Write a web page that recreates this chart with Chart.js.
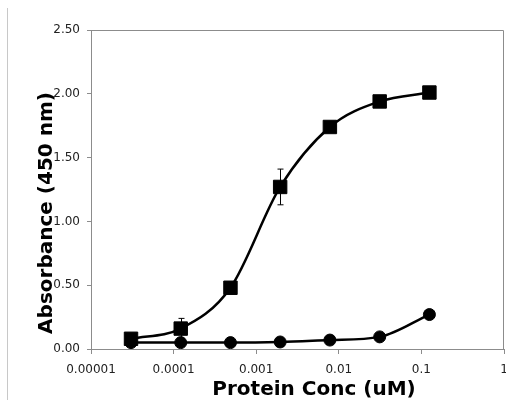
<!DOCTYPE html>
<html>
<head>
<meta charset="utf-8">
<script src="https://cdn.jsdelivr.net/npm/chart.js@4"></script>
<style>
  html, body { margin: 0; padding: 0; background: #fff; }
  canvas { display: block; }
</style>
</head>
<body>
<canvas id="elisaChart" width="506" height="411"></canvas>
<script>
// 4-fold dilution series (uM)
const concentrations = [0.0000305, 0.000122, 0.000488, 0.00195, 0.0078, 0.03125, 0.125];
const squareValues = [0.08, 0.16, 0.48, 1.27, 1.74, 1.94, 2.01];
const squareErrors = [0.01, 0.08, 0.02, 0.14, 0.03, 0.02, 0.02];
const circleValues = [0.05, 0.05, 0.05, 0.055, 0.07, 0.095, 0.27];
const xTickValues = [0.00001, 0.0001, 0.001, 0.01, 0.1, 1];
const xTickLabels = ['0.00001', '0.0001', '0.001', '0.01', '0.1', '1'];
const yTickLabels = ['0.00', '0.50', '1.00', '1.50', '2.00', '2.50'];

const axisGray = '#8c8c8c';

// frame, error bars, axis titles
const extras = {
    id: 'extras',
    beforeDatasetsDraw(chart) {
        const ctx = chart.ctx;
        const xs = chart.scales.x, ys = chart.scales.y;
        ctx.save();
        ctx.strokeStyle = '#000';
        ctx.lineWidth = 1;
        concentrations.forEach(function (c, i) {
            const px = Math.round(xs.getPixelForValue(c)) + 0.5;
            const top = ys.getPixelForValue(squareValues[i] + squareErrors[i]);
            const bot = ys.getPixelForValue(squareValues[i] - squareErrors[i]);
            ctx.beginPath();
            ctx.moveTo(px, top); ctx.lineTo(px, bot);
            ctx.moveTo(px - 3, top); ctx.lineTo(px + 3, top);
            ctx.moveTo(px - 3, bot); ctx.lineTo(px + 3, bot);
            ctx.stroke();
        });
        ctx.restore();
    },
    afterDraw(chart) {
        const ctx = chart.ctx;
        const a = chart.chartArea;
        ctx.save();
        ctx.strokeStyle = axisGray;
        ctx.lineWidth = 1;
        ctx.beginPath();
        ctx.moveTo(a.left, a.top + 0.5); ctx.lineTo(a.right - 0.5, a.top + 0.5);
        ctx.lineTo(a.right - 0.5, a.bottom);
        ctx.stroke();
        // page edge line on the left
        ctx.strokeStyle = '#c8c8c8';
        ctx.beginPath();
        ctx.moveTo(7.5, 8); ctx.lineTo(7.5, 400);
        ctx.stroke();

        ctx.fillStyle = '#000';
        ctx.font = 'bold 20px "DejaVu Sans"';
        ctx.textAlign = 'center';
        ctx.textBaseline = 'alphabetic';
        ctx.fillText('Protein Conc (uM)', 314, 395);
        ctx.translate(52, 213);
        ctx.rotate(-Math.PI / 2);
        ctx.fillText('Absorbance (450 nm)', 0, 0);
        ctx.restore();
    }
};

const ctx = document.getElementById('elisaChart').getContext('2d');
new Chart(ctx, {
    type: 'line',
    data: {
        datasets: [{
            label: 'Squares',
            data: concentrations.map((c, i) => ({ x: c, y: squareValues[i] })),
            borderColor: '#000',
            backgroundColor: '#000',
            borderWidth: 2.5,
            pointStyle: 'rect',
            pointRadius: 9.5,
            pointBorderWidth: 1,
            cubicInterpolationMode: 'monotone'
        }, {
            label: 'Circles',
            data: concentrations.map((c, i) => ({ x: c, y: circleValues[i] })),
            borderColor: '#000',
            backgroundColor: '#000',
            borderWidth: 2.5,
            pointStyle: 'circle',
            pointRadius: 6,
            pointBorderWidth: 1,
            cubicInterpolationMode: 'monotone'
        }]
    },
    options: {
        responsive: false,
        animation: false,
        layout: { autoPadding: false, padding: { top: 30, right: 2, left: 0, bottom: 0 } },
        plugins: { legend: { display: false }, tooltip: { enabled: false } },
        scales: {
            x: {
                type: 'logarithmic',
                min: 0.00001,
                max: 1,
                afterFit(scale) {
                    scale.height = 62;
                    scale.paddingLeft = 0;
                    scale.paddingRight = 0;
                },
                afterBuildTicks(scale) { scale.ticks = xTickValues.map(v => ({ value: v })); },
                grid: { drawOnChartArea: false, tickLength: 5, color: axisGray },
                border: { color: axisGray },
                ticks: {
                    autoSkip: false,
                    maxRotation: 0,
                    padding: 9,
                    color: '#222',
                    font: { family: 'DejaVu Sans', size: 12 },
                    callback: (v, i) => xTickLabels[i]
                }
            },
            y: {
                min: 0,
                max: 2.5,
                afterFit(scale) { scale.width = 91; },
                grid: { drawOnChartArea: false, tickLength: 4, color: axisGray },
                border: { color: axisGray },
                ticks: {
                    stepSize: 0.5,
                    padding: 7,
                    color: '#222',
                    font: { family: 'DejaVu Sans', size: 12 },
                    callback: (v, i) => yTickLabels[i]
                }
            }
        }
    },
    plugins: [extras]
});
</script>
</body>
</html>
